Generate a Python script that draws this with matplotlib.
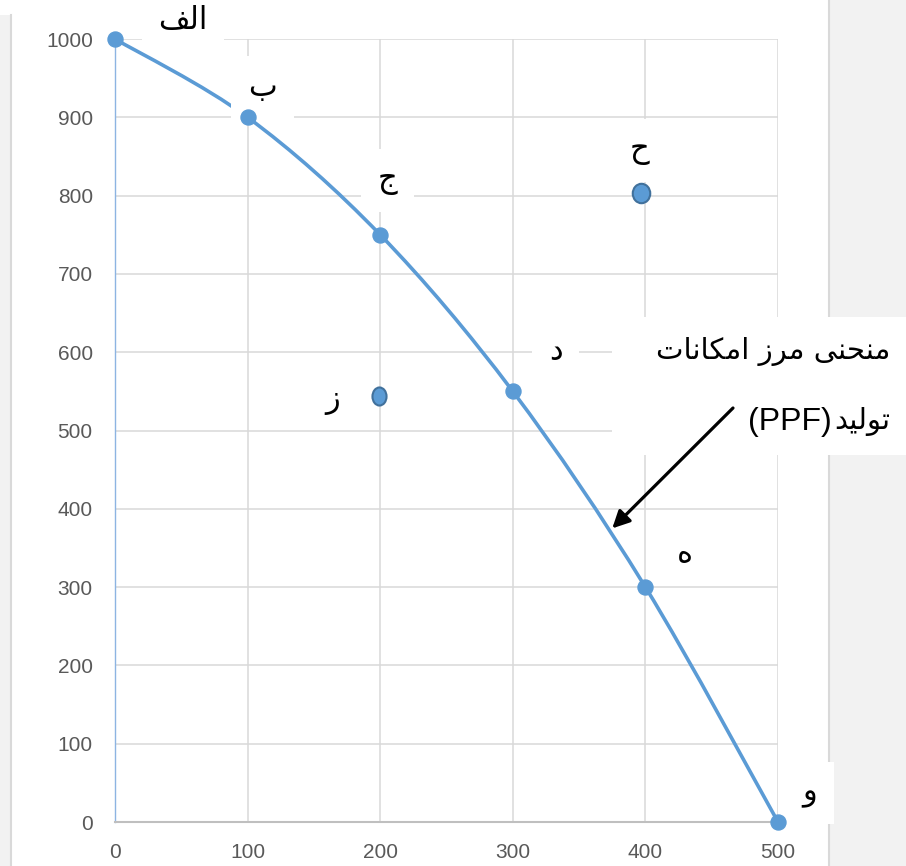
import matplotlib.pyplot as plt
from matplotlib.patches import Rectangle, PathPatch
from matplotlib.lines import Line2D
from matplotlib.path import Path
from matplotlib.transforms import Affine2D

# ── data ──────────────────────────────────────────────────────────────
ppf_x = [0, 100, 200, 300, 400, 500]
ppf_y = [1000, 900, 750, 550, 300, 0]
ppf_labels = ["الف", "ب", "ج", "د", "ه", "و"]

# points off the frontier
out_x = [397]          # ح (outside, unattainable)
out_y = [803]
in_x = [199]           # ز (inside, inefficient)
in_y = [544]

x_ticks = [0, 100, 200, 300, 400, 500]
y_ticks = [0, 100, 200, 300, 400, 500, 600, 700, 800, 900, 1000]

curve_title = ["منحنی مرز امکانات", "تولید", "(PPF)"]

# ── colours ───────────────────────────────────────────────────────────
BLUE = "#5B9BD5"
BLUE_EDGE = "#41719C"
GRID = "#D9D9D9"
AXIS = "#BFBFBF"
TICK = "#595959"
PANEL = "#F2F2F2"

W, H = 906, 866


def fx(px):
    return px / W


def fy(py):
    return 1 - py / H


# ── minimal Persian shaping (presentation forms, visual order) ────────
FORMS = {
    "ا": ("\uFE8D", "\uFE8E", None, None),
    "ب": ("\uFE8F", "\uFE90", "\uFE91", "\uFE92"),
    "ت": ("\uFE95", "\uFE96", "\uFE97", "\uFE98"),
    "ج": ("\uFE9D", "\uFE9E", "\uFE9F", "\uFEA0"),
    "ح": ("\uFEA1", "\uFEA2", "\uFEA3", "\uFEA4"),
    "د": ("\uFEA9", "\uFEAA", None, None),
    "ر": ("\uFEAD", "\uFEAE", None, None),
    "ز": ("\uFEAF", "\uFEB0", None, None),
    "ف": ("\uFED1", "\uFED2", "\uFED3", "\uFED4"),
    "ل": ("\uFEDD", "\uFEDE", "\uFEDF", "\uFEE0"),
    "م": ("\uFEE1", "\uFEE2", "\uFEE3", "\uFEE4"),
    "ن": ("\uFEE5", "\uFEE6", "\uFEE7", "\uFEE8"),
    "ه": ("\uFEE9", "\uFEEA", "\uFEEB", "\uFEEC"),
    "و": ("\uFEED", "\uFEEE", None, None),
    "ک": ("\uFB8E", "\uFB8F", "\uFB90", "\uFB91"),
    "ی": ("\uFBFC", "\uFBFD", "\uFBFE", "\uFBFF"),
}


def fa(text):
    out = []
    for i, ch in enumerate(text):
        f = FORMS.get(ch)
        if f is None:
            out.append(ch)
            continue
        prev = text[i - 1] if i > 0 else ""
        nxt = text[i + 1] if i < len(text) - 1 else ""
        pj = prev in FORMS and FORMS[prev][2] is not None
        nj = nxt in FORMS and f[2] is not None
        if pj and nj:
            out.append(f[3])
        elif pj:
            out.append(f[1])
        elif nj:
            out.append(f[2])
        else:
            out.append(f[0])
    return "".join(reversed(out))


# ── figure ────────────────────────────────────────────────────────────
fig = plt.figure(figsize=(W / 100, H / 100), dpi=100)
fig.patch.set_facecolor("white")

# page strips around the chart
fig.add_artist(Rectangle((0, 0), fx(10), fy(15), transform=fig.transFigure,
                         fc=PANEL, ec="none", zorder=-2))
fig.add_artist(Line2D([fx(11), fx(11)], [0, fy(15)], transform=fig.transFigure,
                      color=GRID, lw=1.5, zorder=-1))
fig.add_artist(Rectangle((fx(829), 0), fx(W - 829), 1, transform=fig.transFigure,
                         fc=PANEL, ec="none", zorder=-2))
fig.add_artist(Line2D([fx(829), fx(829)], [0, 1], transform=fig.transFigure,
                      color=GRID, lw=1.5, zorder=-1))

ax = fig.add_axes([fx(115), fy(822), fx(778 - 115), (822 - 39) / H])
ax.set_xlim(0, 500)
ax.set_ylim(0, 1000)
ax.set_xticks(x_ticks)
ax.set_yticks(y_ticks)
ax.grid(True, color=GRID, lw=1.1, zorder=0)
ax.set_axisbelow(True)
for s in ("top", "right"):
    ax.spines[s].set_visible(False)
ax.spines["bottom"].set_color(AXIS)
ax.spines["bottom"].set_linewidth(1.5)
ax.spines["left"].set_color("#8DB4E2")
ax.spines["left"].set_linewidth(1.0)
ax.tick_params(length=0, colors=TICK, labelsize=15)
ax.tick_params(axis="y", pad=16)
ax.tick_params(axis="x", pad=15)
for lab in ax.get_xticklabels() + ax.get_yticklabels():
    lab.set_family("Liberation Sans")

# smoothed frontier (Catmull-Rom style Bezier through the points)
pts = list(zip(ppf_x, ppf_y))
n = len(pts)
verts = [pts[0]]
codes = [Path.MOVETO]
for i in range(n - 1):
    p0 = pts[max(i - 1, 0)]
    p1 = pts[i]
    p2 = pts[i + 1]
    p3 = pts[min(i + 2, n - 1)]
    c1 = (p1[0] + (p2[0] - p0[0]) / 6, p1[1] + (p2[1] - p0[1]) / 6)
    c2 = (p2[0] - (p3[0] - p1[0]) / 6, p2[1] - (p3[1] - p1[1]) / 6)
    verts += [c1, c2, p2]
    codes += [Path.CURVE4] * 3
ax.add_patch(PathPatch(Path(verts, codes), fill=False, ec=BLUE, lw=2.6,
                       capstyle="round", zorder=3, clip_on=False))
ax.plot(ppf_x, ppf_y, ls="none", marker="o", ms=10.8, color=BLUE,
        mec=BLUE, zorder=5, clip_on=False)

# off-curve points (slightly oval shapes)
oval_h = Path.unit_circle().transformed(Affine2D().scale(0.9, 1))
oval_z = Path.unit_circle().transformed(Affine2D().scale(0.78, 1))
ax.plot(out_x, out_y, ls="none", marker=oval_h, ms=14, color=BLUE,
        mec=BLUE_EDGE, mew=1.5, zorder=5)
ax.plot(in_x, in_y, ls="none", marker=oval_z, ms=13, color=BLUE,
        mec=BLUE_EDGE, mew=1.5, zorder=5)

# point labels
label_off = [(68, 19), (15, 30), (7, 54), (43, 40), (39, 34), (32, 29)]
box = dict(boxstyle="square,pad=0.55", fc="white", ec="none")
for x, y, t, (dx, dy) in zip(ppf_x, ppf_y, ppf_labels, label_off):
    ax.annotate(fa(t), xy=(x, y), xytext=(dx, dy), textcoords="offset pixels",
                ha="center", va="center", fontsize=22, family="DejaVu Sans",
                color="black", bbox=box, zorder=4, annotation_clip=False)

ax.annotate(fa("ح"), xy=(out_x[0], out_y[0]), xytext=(-2, 43),
            textcoords="offset pixels", ha="center", va="center", fontsize=22,
            family="DejaVu Sans", bbox=box, zorder=4)
ax.annotate(fa("ز"), xy=(in_x[0], in_y[0]), xytext=(-46, -4),
            textcoords="offset pixels", ha="center", va="center", fontsize=22,
            family="DejaVu Sans",
            bbox=dict(boxstyle="square,pad=0.3", fc="white", ec="none"),
            zorder=4)

# curve title with arrow
ax.add_patch(Rectangle((fx(612), fy(455)), fx(W - 612), (455 - 317) / H,
                       transform=fig.transFigure, fc="white", ec="none",
                       zorder=6, clip_on=False))
ax.text(fx(890), fy(352), fa(curve_title[0]), transform=fig.transFigure,
        ha="right", va="center", fontsize=21, family="DejaVu Sans",
        zorder=7, clip_on=False)
ax.text(fx(890), fy(422), fa(curve_title[1]), transform=fig.transFigure,
        ha="right", va="center", fontsize=21, family="DejaVu Sans",
        zorder=7, clip_on=False)
ax.text(fx(832), fy(422), curve_title[2], transform=fig.transFigure,
        ha="right", va="center", fontsize=23, family="Liberation Sans",
        zorder=7, clip_on=False)
ax.annotate("", xy=(375, 375), xytext=(733, H - 408),
            textcoords="figure pixels",
            arrowprops=dict(arrowstyle="-|>", color="black", lw=2.3,
                            mutation_scale=26, shrinkA=0, shrinkB=0),
            zorder=8, annotation_clip=False)

fig.savefig("out.png", dpi=100, facecolor="white")
